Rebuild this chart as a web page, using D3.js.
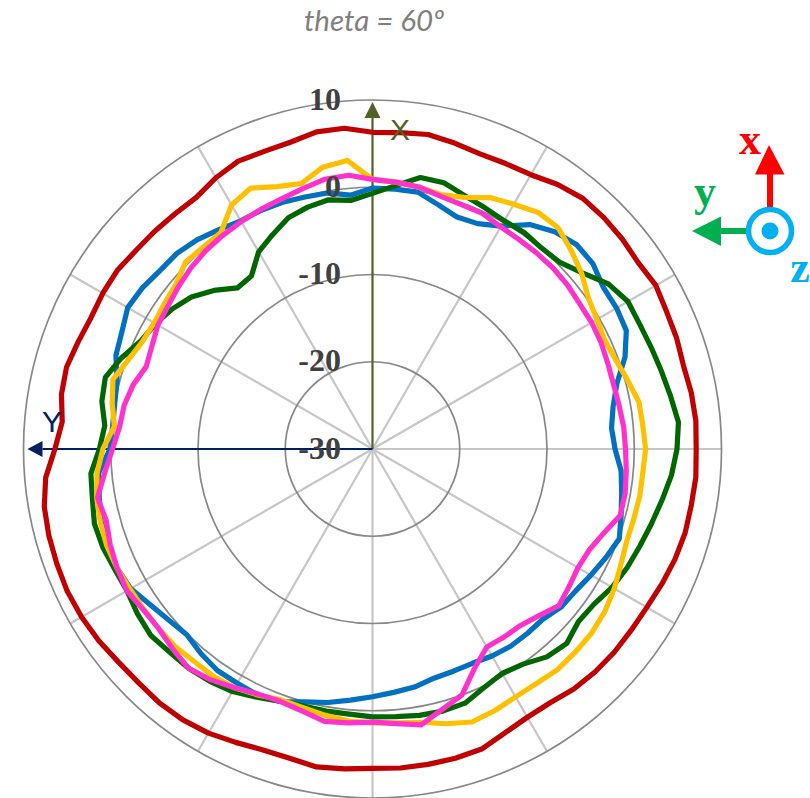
<!DOCTYPE html>
<html>
<head>
<meta charset="utf-8">
<script src="https://cdn.jsdelivr.net/npm/d3@7"></script>
<style>
html,body{margin:0;padding:0;background:#fff;overflow:hidden}
svg{display:block}
</style>
</head>
<body>
<svg id="c" width="810" height="798"></svg>
<script>
// angles: one reading every 5 degrees, clockwise from +X
const angleStep = 5;
const radialTicks = [-30, -20, -10, 0, 10];
const spokeAngles = [30, 60, 90, 120, 150, 180, 210, 240, 300, 330];
const titleText = "theta = 60º";

const redSeries = [6.3,6.4,6.6,6.3,6.0,6.1,6.3,7.0,7.5,7.5,7.4,7.2,7.5,7.2,7.1,6.9,7.1,7.2,
7.1,7.2,7.1,7.1,6.9,6.6,6.3,6.2,6.2,6.1,5.9,5.5,5.5,5.9,6.6,6.7,6.7,6.7,
6.6,6.8,7.0,6.7,6.7,7.1,7.6,7.9,8.0,7.9,8.0,8.3,8.5,8.6,8.5,8.4,8.2,7.6,
6.4,5.7,6.2,6.3,5.9,5.6,5.7,5.7,5.4,5.3,5.2,5.2,5.9,6.4,6.3,6.4,6.9,6.9];

const blueSeries = [-0.1,-0.1,-0.1,-1.0,-1.7,-1.5,-0.5,1.4,2.5,3.1,3.0,2.3,2.3,2.1,0.8,-1.0,-2.0,-2.5,
-2.2,-1.4,-1.0,-0.5,0.1,-0.5,-1.1,-1.6,-1.8,-2.4,-2.4,-2.4,-2.6,-2.9,-2.9,-2.8,-2.3,-2.0,
-1.6,-1.1,-0.5,0,0.8,1.1,1.0,1.0,0.6,0.1,0.5,1.1,2.0,2.3,2.3,2.2,1.8,1.5,
0.1,-0.1,0,0.3,1.3,1.7,2.4,2.2,1.8,1.7,1.3,0.7,0.2,0.2,0.1,-0.1,-0.2,-0.8];

const greenSeries = [-0.7,0.3,1.6,1.6,0.9,0.5,0.2,0.3,0.1,0.3,1.4,3.0,3.8,3.8,4.0,4.3,4.7,5.2,
4.9,4.4,3.7,3.1,2.6,2.2,1.7,1.0,0.8,1.5,1.1,0.1,-0.3,0.2,1.0,1.1,1.0,0.8,
0.7,0.5,0.5,0.5,0.8,1.4,2.1,2.5,2.8,2.9,3.2,2.9,2.5,2.6,2.9,3.0,2.6,2.4,
1.3,0.8,1.5,1.7,0.6,-0.7,-1.3,-2.0,-2.9,-4.3,-5.9,-5.8,-3.9,-2.9,-1.8,-1.3,-1.0,-1.4];

const yellowSeries = [0.9,0.7,0.5,0.2,0.7,1.8,2.4,3.1,3.1,2.2,1.3,0.2,-0.3,-0.6,-0.3,0.3,1.0,1.1,
1.3,1.1,1.1,1.0,1.0,1.4,2.0,2.5,2.8,2.9,3.0,2.8,2.8,3.1,3.3,2.6,1.8,1.5,
1.4,1.3,1.0,0.7,0.6,1.1,1.6,1.8,1.8,2.0,2.0,2.0,2.1,2.3,2.4,2.3,2.1,1.7,
0.9,-0.3,0.3,0.8,-0.2,-0.9,-1.1,-0.9,-0.6,0.3,0.2,0.3,2.3,3.0,2.0,1.5,2.8,3.2];

const pinkSeries = [0.9,0.7,0.5,0,-0.2,-0.2,-0.6,-0.7,-0.7,-0.7,-0.8,-1.0,-1.0,-1.1,-1.3,-1.4,-1.3,-1.1,
-1.0,-0.8,-0.6,-0.6,-1.8,-2.6,-2.8,-2.5,-2.1,-3.0,-3.6,-3.7,-3.8,-2.3,0,0.9,2.1,1.6,
1.3,1.5,1.7,1.1,0.8,1.0,1.6,2.3,2.8,2.4,2.0,2.1,2.5,2.3,2.0,1.6,2.0,0.8,
-0.2,-0.9,-1.1,-1.6,-2.4,-2.1,-1.6,-1.4,-1.0,-0.6,-0.3,-0.1,0.1,0.3,0.5,0.9,1.4,1.5];

const seriesList = [redSeries, blueSeries, greenSeries, yellowSeries, pinkSeries];
const seriesColors = ["#C00000", "#0070C0", "#006600", "#FFC000", "#FF33CC"];

const cx = 372.5, cy = 449, R = 349;
const svg = d3.select("#c");
const r = d3.scaleLinear().domain([-30, 10]).range([0, R]);
const a = d3.scaleLinear().domain([0, 360]).range([0, 2 * Math.PI]);
const plot = svg.append("g").attr("transform", `translate(${cx},${cy})`);

// spokes
plot.selectAll("line.spoke").data(spokeAngles).join("line")
  .attr("class", "spoke")
  .attr("x1", 0).attr("y1", 0)
  .attr("x2", d => R * Math.sin(a(d)))
  .attr("y2", d => -R * Math.cos(a(d)))
  .attr("stroke", "#c6c6c6").attr("stroke-width", 2.2);

// rings
plot.selectAll("circle.ring").data(radialTicks.slice(1)).join("circle")
  .attr("class", "ring")
  .attr("r", d => r(d))
  .attr("fill", "none").attr("stroke", "#878787").attr("stroke-width", 1.7);

// axis arrows
function axisArrow(dx, dy, color, len, head, halfW) {
  plot.append("line").attr("x1", 0).attr("y1", 0)
    .attr("x2", dx * (len - head)).attr("y2", dy * (len - head))
    .attr("stroke", color).attr("stroke-width", 2.2);
  const px = -dy, py = dx;
  plot.append("path")
    .attr("d", `M${dx * len},${dy * len}L${dx * (len - head) + px * halfW},${dy * (len - head) + py * halfW}L${dx * (len - head) - px * halfW},${dy * (len - head) - py * halfW}Z`)
    .attr("fill", color);
}
axisArrow(0, -1, "#4F6228", 347, 16, 8);
axisArrow(-1, 0, "#002060", 345, 15, 8);

// curves
const line = d3.lineRadial()
  .angle((d, i) => a(i * angleStep))
  .radius(d => r(d))
  .curve(d3.curveLinearClosed);
plot.selectAll("path.curve").data(seriesList).join("path")
  .attr("class", "curve")
  .attr("d", d => line(d))
  .attr("fill", "none")
  .attr("stroke", (d, i) => seriesColors[i])
  .attr("stroke-width", 5.2)
  .attr("stroke-linejoin", "round");

// radial labels
plot.selectAll("text.tick").data(radialTicks).join("text")
  .attr("class", "tick")
  .attr("x", -31.5)
  .attr("y", d => -r(d) - 1)
  .attr("dy", "0.33em")
  .attr("text-anchor", "end")
  .attr("font-family", "'Liberation Serif'")
  .attr("font-weight", "bold")
  .attr("font-size", 32)
  .attr("fill", "#404040")
  .text(d => d);

// axis names
svg.append("text").attr("x", 400).attr("y", 140).attr("text-anchor", "middle")
  .attr("font-family", "'Liberation Sans'").attr("font-size", 30).attr("fill", "#4F6228").text("X");
svg.append("text").attr("x", 52).attr("y", 432).attr("text-anchor", "middle")
  .attr("font-family", "'Liberation Sans'").attr("font-size", 30).attr("fill", "#002060").text("Y");

// title
svg.append("text").attr("x", 374).attr("y", 31).attr("text-anchor", "middle")
  .attr("font-family", "Lato").attr("font-style", "italic").attr("font-size", 29.5)
  .attr("fill", "#7F7F7F").text(titleText);

// coordinate triad
const triad = svg.append("g");
triad.append("rect").attr("x", 767).attr("y", 172).attr("width", 6).attr("height", 36).attr("fill", "#FF0000");
triad.append("path").attr("d", "M769,145L784.5,174.5L755,174.5Z").attr("fill", "#FF0000");
triad.append("rect").attr("x", 719).attr("y", 228).attr("width", 28).attr("height", 6).attr("fill", "#00B050");
triad.append("path").attr("d", "M692,231L721,216.5L721,246Z").attr("fill", "#00B050");
triad.append("circle").attr("cx", 770).attr("cy", 231).attr("r", 21.5).attr("fill", "#fff").attr("stroke", "#00B0F0").attr("stroke-width", 5.5);
triad.append("circle").attr("cx", 770).attr("cy", 231).attr("r", 8.5).attr("fill", "#00B0F0");
[["x", 750, 154, "#FF0000"], ["y", 705, 206, "#00B050"], ["z", 800, 282, "#00B0F0"]].forEach(t => {
  triad.append("text").attr("x", t[1]).attr("y", t[2]).attr("text-anchor", "middle")
    .attr("font-family", "'Liberation Serif'").attr("font-weight", "bold").attr("font-size", 44)
    .attr("fill", t[3]).text(t[0]);
});
</script>
</body>
</html>
